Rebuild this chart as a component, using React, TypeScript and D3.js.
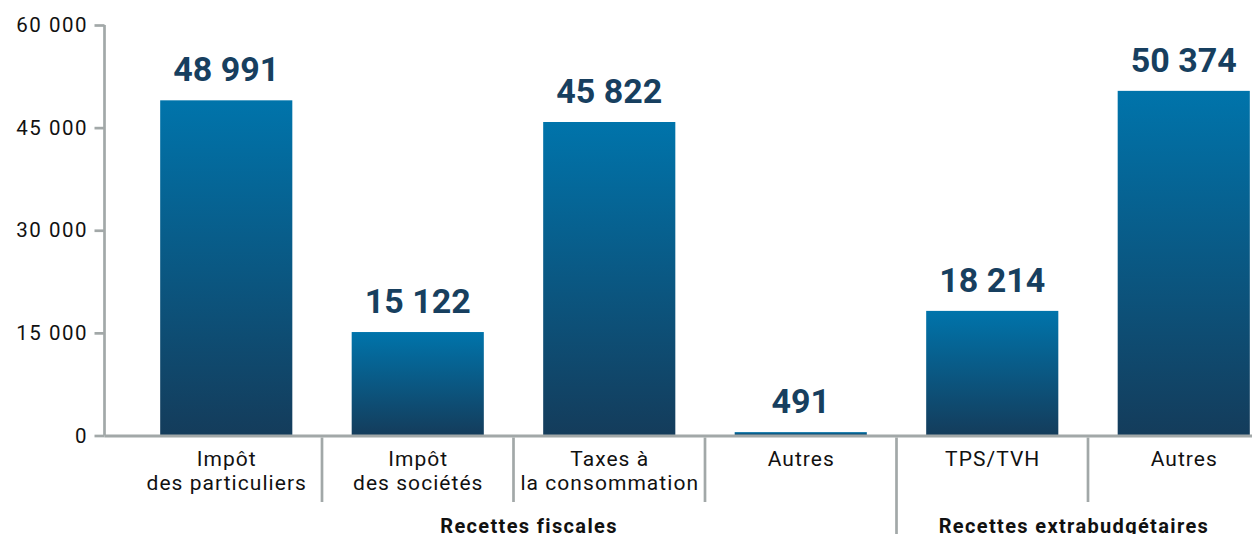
import * as d3 from "d3";
import * as React from "react";
import { useEffect, useRef } from "react";

// catégories (lignes des libellés séparées par \n)
const categories = [
  "Impôt\ndes particuliers",
  "Impôt\ndes sociétés",
  "Taxes à\nla consommation",
  "Autres",
  "TPS/TVH",
  "Autres ",
];
const values = [48991, 15122, 45822, 491, 18214, 50374];
const groups = ["Recettes fiscales", "Recettes extrabudgétaires"];
const groupSizes = [4, 2];
const yTicks = [0, 15000, 30000, 45000, 60000];

const fmt = (v: number) => d3.format(",")(v).replace(/,/g, " ");

export default function App() {
  const svgRef = useRef<SVGSVGElement | null>(null);

  useEffect(() => {
    if (!svgRef.current) return;
    const width = 1260;
    const height = 538;
    const axisX = 104.5;
    const baseY = 435.5;

    const x = d3.scaleBand<string>()
      .domain(categories)
      .range([130.5, 1279.5])
      .paddingInner(0.31)
      .paddingOuter(0.155);

    const y = d3.scaleLinear().domain([0, 60000]).range([baseY, 25]);

    const svg = d3.select(svgRef.current)
      .attr("width", width)
      .attr("height", height)
      .style("font-family", "Roboto, sans-serif");

    svg.selectAll("*").remove();

    const defs = svg.append("defs");
    const grad = defs.append("linearGradient")
      .attr("id", "barGrad")
      .attr("x1", 0).attr("y1", 0).attr("x2", 0).attr("y2", 1);
    grad.append("stop").attr("offset", "0%").attr("stop-color", "#0074ab");
    grad.append("stop").attr("offset", "100%").attr("stop-color", "#143c5b");

    // barres
    svg.selectAll("rect.bar")
      .data(values)
      .enter()
      .append("rect")
      .attr("class", "bar")
      .attr("x", (_, i) => x(categories[i])!)
      .attr("width", x.bandwidth())
      .attr("y", d => y(d))
      .attr("height", d => baseY - y(d))
      .attr("fill", "url(#barGrad)");

    // étiquettes de valeurs
    svg.selectAll("text.val")
      .data(values)
      .enter()
      .append("text")
      .attr("class", "val")
      .attr("x", (_, i) => x(categories[i])! + x.bandwidth() / 2)
      .attr("y", d => y(d) - 19)
      .attr("text-anchor", "middle")
      .attr("font-size", 34)
      .attr("font-weight", 700)
      .attr("fill", "#173f5f")
      .text(d => fmt(d));

    // axe Y
    const yAxis = svg.append("g")
      .attr("transform", `translate(${axisX},0)`)
      .call(d3.axisLeft(y).tickValues(yTicks).tickSize(10).tickPadding(8).tickFormat(d => fmt(+d)));
    yAxis.select(".domain").attr("stroke", "#a2a8a8").attr("stroke-width", 2.7)
      .attr("d", `M0,${y(60000)}V${baseY}`);
    yAxis.selectAll(".tick line").attr("stroke", "#a2a8a8").attr("stroke-width", 2.7);
    yAxis.selectAll(".tick text")
      .attr("font-size", 20.5)
      .attr("letter-spacing", 1.5)
      .attr("dx", 1.5)
      .attr("fill", "#111")
      .attr("font-family", "Roboto, sans-serif");

    // ligne de base
    svg.append("line")
      .attr("x1", axisX).attr("x2", width)
      .attr("y1", baseY + 0.5).attr("y2", baseY + 0.5)
      .attr("stroke", "#a2a8a8").attr("stroke-width", 3);

    // séparateurs entre catégories
    const step = x.step();
    const groupEnds = d3.cumsum(groupSizes).map(n => n - 1);
    categories.slice(0, -1).forEach((c, i) => {
      const sx = x(c)! + x.bandwidth() + (step - x.bandwidth()) / 2;
      const isGroupEnd = groupEnds.includes(i);
      svg.append("line")
        .attr("x1", sx).attr("x2", sx)
        .attr("y1", baseY + 2).attr("y2", isGroupEnd ? height : 502)
        .attr("stroke", "#a2a8a8").attr("stroke-width", 2.7);
    });

    // libellés des catégories
    categories.forEach(c => {
      const cx = x(c)! + x.bandwidth() / 2 + 0.5;
      const t = svg.append("text")
        .attr("x", cx)
        .attr("y", 466)
        .attr("text-anchor", "middle")
        .attr("font-size", 21)
        .attr("letter-spacing", 1.05)
        .attr("fill", "#111");
      c.trim().split("\n").forEach((line, j) => {
        t.append("tspan")
          .attr("x", cx)
          .attr("dy", j === 0 ? 0 : 24)
          .text(line);
      });
    });

    // libellés des groupes
    const g1Start = x(categories[0])!;
    const g1End = x(categories[3])! + x.bandwidth() + (step - x.bandwidth()) / 2;
    const g2Start = g1End;
    const groupCenters = [(g1Start + g1End) / 2, (g2Start + width - 10) / 2];
    groups.forEach((g, i) => {
      svg.append("text")
        .attr("x", groupCenters[i] + 0.7)
        .attr("y", 533)
        .attr("text-anchor", "middle")
        .attr("font-size", 20)
        .attr("font-weight", 700)
        .attr("letter-spacing", 1.35)
        .attr("fill", "#111")
        .text(g);
    });
  }, []);

  return (
    <div style={{ margin: -8 }}>
      <svg ref={svgRef}></svg>
    </div>
  );
}
